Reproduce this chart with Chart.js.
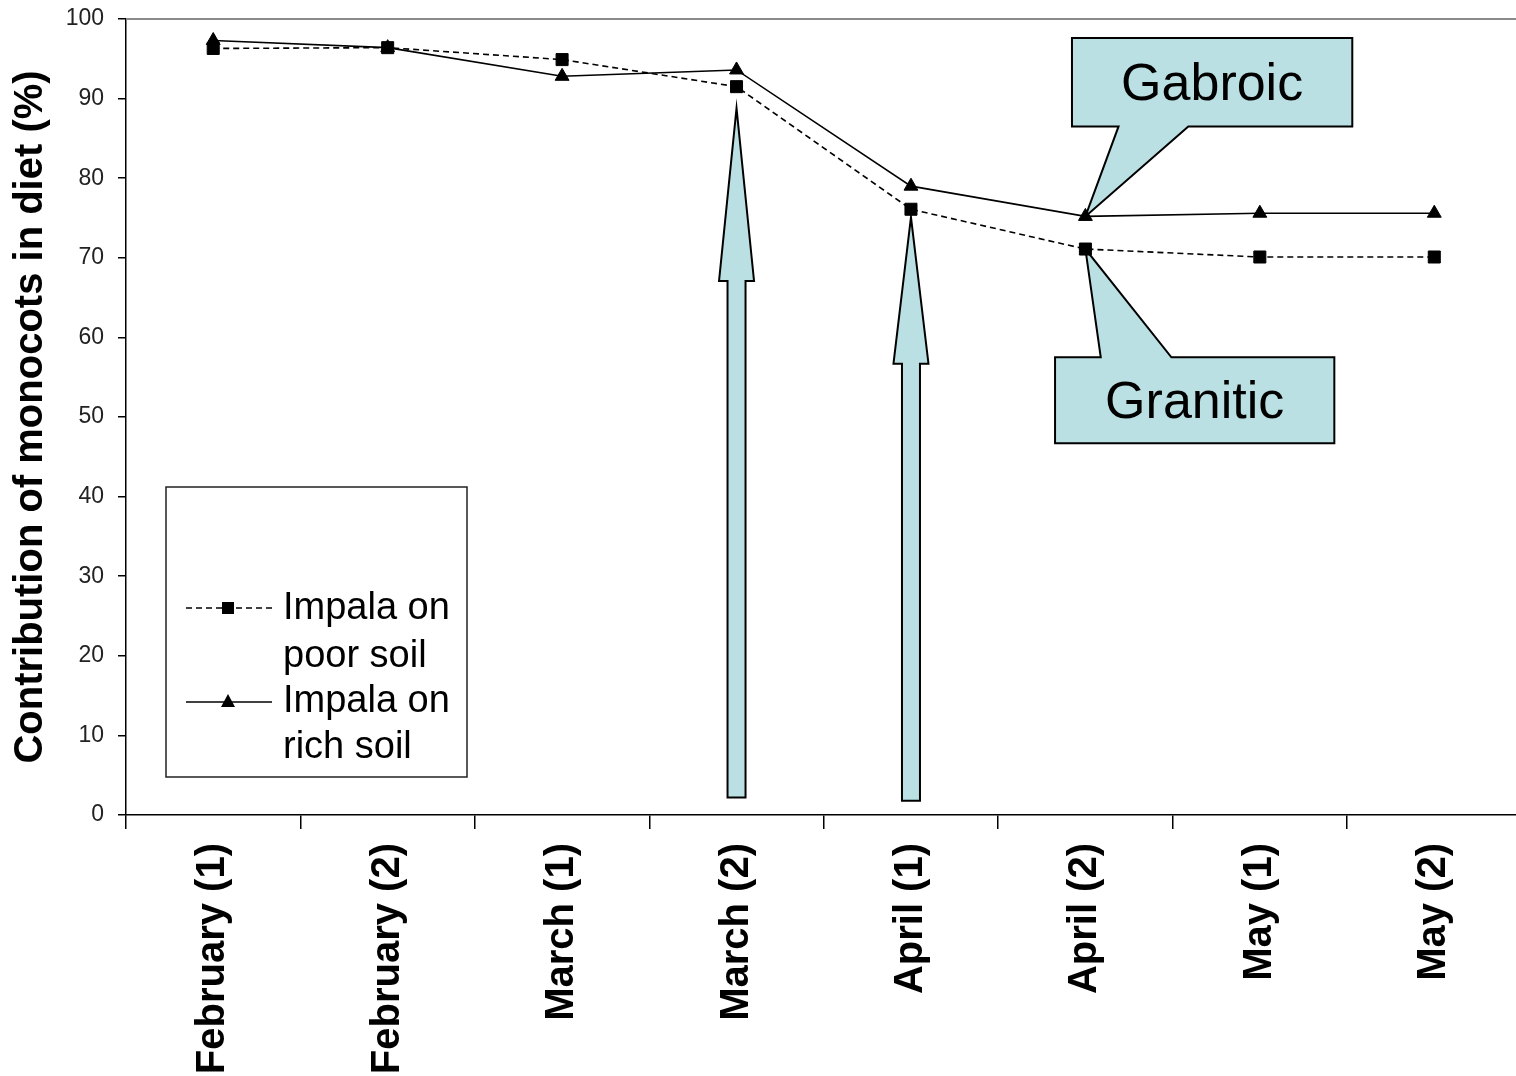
<!DOCTYPE html>
<html lang="en">

<head>
    <meta charset="UTF-8">
    <title>Monocots in impala diet</title>
    <script src="https://cdn.jsdelivr.net/npm/chart.js"></script>
    <style>
        html, body {
            margin: 0;
            padding: 0;
            background: #fff;
            overflow: hidden;
        }

        #wrap {
            width: 1516px;
            height: 1076px;
            overflow: hidden;
        }
    </style>
</head>

<body>
    <div id="wrap">
        <canvas id="dietChart" width="1531" height="1076"></canvas>
    </div>

    <script>
        // data
        const categories = ['February (1)', 'February (2)', 'March (1)', 'March (2)', 'April (1)', 'April (2)', 'May (1)', 'May (2)'];
        const poorSoil = [96.3, 96.4, 94.9, 91.5, 76.1, 71.1, 70.1, 70.1];
        const richSoil = [97.3, 96.4, 92.8, 93.6, 79.0, 75.2, 75.6, 75.6];
        const poorLabel = ['Impala on', 'poor soil'];
        const richLabel = ['Impala on', 'rich soil'];
        const yMin = 0;
        const yMax = 100;
        const yStep = 10;

        // annotations, in category index / percent units
        const arrows = [
            { at: 3, from: 2.2, headBase: 67.1, tip: 88.8 },
            { at: 4, from: 1.8, headBase: 56.7, tip: 75.1 }
        ];
        const callouts = [
            { text: 'Gabroic', x0: 4.923, x1: 6.53, top: 97.6, bottom: 86.5, base: [5.19, 5.59], edge: 'bottom', series: 1, point: 5 },
            { text: 'Granitic', x0: 4.826, x1: 6.427, top: 57.5, bottom: 46.7, base: [5.088, 5.493], edge: 'top', series: 0, point: 5 }
        ];

        const FONT = "'Liberation Sans', Arial, sans-serif";
        const CALLOUT_FILL = '#bae0e3';

        const extras = {
            id: 'extras',
            beforeDatasetsDraw(chart) {
                const { ctx, chartArea, scales: { x, y } } = chart;
                ctx.save();

                // grey plot-area border along the top
                ctx.strokeStyle = '#8a8a8a';
                ctx.lineWidth = 2;
                ctx.beginPath();
                ctx.moveTo(chartArea.left, chartArea.top);
                ctx.lineTo(chartArea.right, chartArea.top);
                ctx.stroke();

                ctx.fillStyle = CALLOUT_FILL;
                ctx.strokeStyle = '#000';
                ctx.lineWidth = 2;
                ctx.lineJoin = 'miter';

                arrows.forEach(a => {
                    const cx = x.getPixelForValue(a.at);
                    const sw = 9, hw = 17.5;
                    const y0 = y.getPixelForValue(a.from);
                    const yb = y.getPixelForValue(a.headBase);
                    const yt = y.getPixelForValue(a.tip);
                    ctx.beginPath();
                    ctx.moveTo(cx - sw, y0);
                    ctx.lineTo(cx - sw, yb);
                    ctx.lineTo(cx - hw, yb);
                    ctx.lineTo(cx, yt);
                    ctx.lineTo(cx + hw, yb);
                    ctx.lineTo(cx + sw, yb);
                    ctx.lineTo(cx + sw, y0);
                    ctx.closePath();
                    ctx.fill();
                    ctx.stroke();
                });

                callouts.forEach(c => {
                    const l = x.getPixelForValue(c.x0), r = x.getPixelForValue(c.x1);
                    const t = y.getPixelForValue(c.top), b = y.getPixelForValue(c.bottom);
                    const b0 = x.getPixelForValue(c.base[0]), b1 = x.getPixelForValue(c.base[1]);
                    const pt = chart.getDatasetMeta(c.series).data[c.point];
                    ctx.beginPath();
                    if (c.edge === 'bottom') {
                        ctx.moveTo(l, t);
                        ctx.lineTo(r, t);
                        ctx.lineTo(r, b);
                        ctx.lineTo(b1, b);
                        ctx.lineTo(pt.x, pt.y);
                        ctx.lineTo(b0, b);
                        ctx.lineTo(l, b);
                    } else {
                        ctx.moveTo(l, b);
                        ctx.lineTo(l, t);
                        ctx.lineTo(b0, t);
                        ctx.lineTo(pt.x, pt.y);
                        ctx.lineTo(b1, t);
                        ctx.lineTo(r, t);
                        ctx.lineTo(r, b);
                    }
                    ctx.closePath();
                    ctx.fill();
                    ctx.stroke();

                    ctx.fillStyle = '#000';
                    ctx.font = '52px ' + FONT;
                    ctx.textAlign = 'center';
                    ctx.textBaseline = 'middle';
                    ctx.fillText(c.text, (l + r) / 2, (t + b) / 2 + 3);
                    ctx.fillStyle = CALLOUT_FILL;
                });

                ctx.restore();
            },
            afterDraw(chart) {
                // legend box with two-line labels
                const { ctx, chartArea } = chart;
                const bx = chartArea.left + 40, by = chartArea.top + 468;
                ctx.save();
                ctx.fillStyle = '#fff';
                ctx.fillRect(bx, by, 301, 290);
                ctx.strokeStyle = '#222';
                ctx.lineWidth = 1.5;
                ctx.strokeRect(bx, by, 301, 290);

                const entries = [
                    { ds: chart.data.datasets[0], lineY: by + 121, textY: [by + 132, by + 180] },
                    { ds: chart.data.datasets[1], lineY: by + 215, textY: [by + 225, by + 271] }
                ];
                entries.forEach(e => {
                    ctx.strokeStyle = '#000';
                    ctx.lineWidth = 1.5;
                    ctx.setLineDash(e.ds.borderDash || []);
                    ctx.beginPath();
                    ctx.moveTo(bx + 20, e.lineY);
                    ctx.lineTo(bx + 106, e.lineY);
                    ctx.stroke();
                    ctx.setLineDash([]);
                    ctx.fillStyle = '#000';
                    const mx = bx + 62;
                    ctx.beginPath();
                    if (e.ds.pointStyle === 'rect') {
                        ctx.rect(mx - 6, e.lineY - 6, 12, 12);
                    } else {
                        ctx.moveTo(mx, e.lineY - 8);
                        ctx.lineTo(mx + 7, e.lineY + 5);
                        ctx.lineTo(mx - 7, e.lineY + 5);
                        ctx.closePath();
                    }
                    ctx.fill();

                    ctx.font = '38px ' + FONT;
                    ctx.textAlign = 'left';
                    ctx.textBaseline = 'alphabetic';
                    e.ds.label.forEach((line, i) => ctx.fillText(line, bx + 117, e.textY[i]));
                });
                ctx.restore();
            }
        };

        new Chart(document.getElementById('dietChart').getContext('2d'), {
            type: 'line',
            data: {
                labels: categories,
                datasets: [{
                    label: poorLabel,
                    data: poorSoil,
                    borderColor: '#000',
                    borderWidth: 1.6,
                    borderDash: [6, 4],
                    pointStyle: 'rect',
                    pointRadius: 8.5,
                    pointBackgroundColor: '#000',
                    pointBorderColor: '#000',
                    pointBorderWidth: 1,
                    tension: 0
                }, {
                    label: richLabel,
                    data: richSoil,
                    borderColor: '#000',
                    borderWidth: 1.6,
                    pointStyle: 'triangle',
                    pointRadius: 8,
                    pointBackgroundColor: '#000',
                    pointBorderColor: '#000',
                    pointBorderWidth: 1,
                    tension: 0
                }]
            },
            options: {
                responsive: false,
                animation: false,
                events: [],
                layout: { padding: { top: 19, right: 1, left: 0, bottom: 0 } },
                plugins: {
                    legend: { display: false },
                    tooltip: { enabled: false }
                },
                scales: {
                    x: {
                        offset: true,
                        grid: { offset: true, drawOnChartArea: false, tickLength: 14, color: '#000', lineWidth: 1.5 },
                        border: { color: '#000', width: 1.5 },
                        ticks: {
                            autoSkip: false,
                            minRotation: 90,
                            maxRotation: 90,
                            padding: 14,
                            color: '#000',
                            font: { family: FONT, size: 40, weight: 'bold' }
                        },
                        afterFit: s => { s.height = 261; s.paddingLeft = 0; s.paddingRight = 0; }
                    },
                    y: {
                        min: yMin,
                        max: yMax,
                        grid: { drawOnChartArea: false, tickLength: 8, color: '#000', lineWidth: 1.5 },
                        border: { color: '#000', width: 1.5 },
                        ticks: {
                            stepSize: yStep,
                            padding: 14,
                            color: '#222',
                            font: { family: FONT, size: 23 }
                        },
                        title: {
                            display: true,
                            text: 'Contribution of monocots in diet (%)',
                            color: '#000',
                            padding: { top: 7, bottom: 0 },
                            font: { family: FONT, size: 40, weight: 'bold' }
                        },
                        afterFit: s => { s.width = 126; s.paddingTop = 0; s.paddingBottom = 0; }
                    }
                }
            },
            plugins: [extras]
        });
    </script>
</body>

</html>
